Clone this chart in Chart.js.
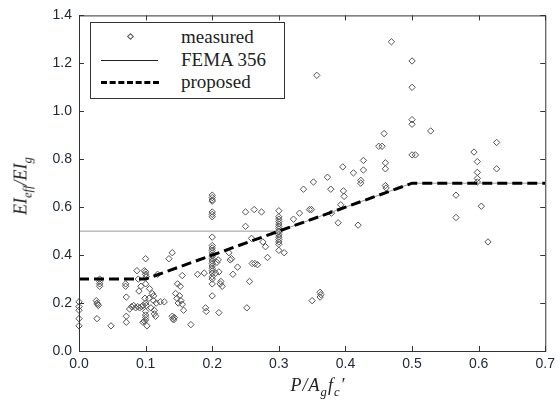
<!DOCTYPE html>
<html>
  <head>
    <meta charset="utf-8" />
    <title>EI eff / EI g</title>
    <script src="https://cdn.jsdelivr.net/npm/chart.js"></script>
    <style>
      * {
        box-sizing: border-box;
        margin: 0;
        padding: 0;
      }
      body {
        background: #fff;
      }
      #box {
        position: relative;
        width: 560px;
        height: 405px;
      }
      .serif {
        font-family: "Liberation Serif", "Times New Roman", serif;
        color: #222;
      }
      #legend {
        position: absolute;
        left: 90px;
        top: 22px;
        width: 195px;
        height: 77px;
        border: 1px solid #333;
        background: #fff;
        font-size: 19px;
      }
      #legend .row {
        position: absolute;
        left: 0;
        height: 22px;
        line-height: 22px;
      }
      #legend .txt {
        position: absolute;
        left: 90px;
        white-space: nowrap;
      }
      .diamond {
        position: absolute;
        left: 37px;
        top: 8px;
        width: 5px;
        height: 5px;
        border: 1px solid #555;
        transform: rotate(45deg);
      }
      .solid {
        position: absolute;
        left: 10px;
        top: 11px;
        width: 57px;
        border-top: 1px solid #222;
      }
      .dashed {
        position: absolute;
        left: 10px;
        top: 10px;
        width: 58px;
        border-top: 3px dashed #000;
      }
      #ytitle {
        position: absolute;
        left: 23px;
        top: 186px;
        transform: translate(-50%, -50%) rotate(-90deg);
        font-size: 18px;
        font-style: italic;
        white-space: nowrap;
      }
      #xtitle {
        position: absolute;
        left: 318px;
        top: 376px;
        transform: translateX(-50%);
        font-size: 18px;
        line-height: 18px;
        font-style: italic;
        white-space: nowrap;
        letter-spacing: 1px;
      }
      sub {
        font-size: 70%;
        vertical-align: -5px;
      }
    </style>
  </head>

  <body>
    <div id="box">
      <canvas id="chart" width="560" height="405"></canvas>
      <div id="legend" class="serif">
        <div class="row" style="top: 3px; width: 100%">
          <span class="diamond"></span><span class="txt">measured</span>
        </div>
        <div class="row" style="top: 26px; width: 100%">
          <span class="solid"></span><span class="txt">FEMA 356</span>
        </div>
        <div class="row" style="top: 48px; width: 100%">
          <span class="dashed"></span><span class="txt">proposed</span>
        </div>
      </div>
      <div id="ytitle" class="serif">EI<sub>eff</sub>/EI<sub>g</sub></div>
      <div id="xtitle" class="serif">P/A<sub>g</sub>f<sub>c</sub>′</div>
    </div>

    <script>
      // axial load ratio P/(Ag fc') vs EIeff/EIg
      const measured = [
        [0, 0.205], [0, 0.185], [0, 0.17], [0, 0.135], [0, 0.105],
        [0.026, 0.21], [0.027, 0.2], [0.028, 0.195], [0.029, 0.19], [0.027, 0.135],
        [0.031, 0.3], [0.031, 0.29], [0.031, 0.28], [0.031, 0.27],
        [0.048, 0.105],
        [0.07, 0.28], [0.07, 0.27], [0.071, 0.225], [0.071, 0.145], [0.071, 0.12],
        [0.076, 0.175], [0.079, 0.185], [0.082, 0.19], [0.085, 0.18],
        [0.088, 0.185], [0.091, 0.18], [0.094, 0.185], [0.096, 0.19],
        [0.087, 0.335], [0.089, 0.3], [0.09, 0.25], [0.093, 0.27],
        [0.098, 0.335], [0.1, 0.33], [0.1, 0.32], [0.101, 0.31], [0.1, 0.385],
        [0.1, 0.28], [0.099, 0.22], [0.1, 0.2], [0.101, 0.19], [0.1, 0.165],
        [0.1, 0.15], [0.1, 0.14], [0.1, 0.13], [0.098, 0.125], [0.102, 0.105],
        [0.096, 0.12],
        [0.105, 0.22], [0.106, 0.26], [0.108, 0.18], [0.11, 0.24], [0.112, 0.23],
        [0.112, 0.21], [0.113, 0.17], [0.113, 0.155], [0.115, 0.145], [0.116, 0.2],
        [0.118, 0.32], [0.122, 0.205], [0.128, 0.205],
        [0.135, 0.385], [0.14, 0.41],
        [0.14, 0.145], [0.141, 0.135], [0.142, 0.13], [0.143, 0.14],
        [0.145, 0.24], [0.147, 0.22], [0.149, 0.2], [0.151, 0.23], [0.153, 0.21],
        [0.155, 0.195], [0.155, 0.315], [0.157, 0.17], [0.152, 0.27], [0.148, 0.28],
        [0.168, 0.11], [0.178, 0.32],
        [0.19, 0.18], [0.191, 0.165], [0.188, 0.325],
        [0.2, 0.65], [0.2, 0.64], [0.2, 0.63], [0.2, 0.625], [0.2, 0.58],
        [0.2, 0.57], [0.2, 0.56], [0.2, 0.475], [0.2, 0.44], [0.2, 0.43],
        [0.2, 0.42], [0.2, 0.41], [0.2, 0.4], [0.2, 0.395], [0.2, 0.385],
        [0.2, 0.375], [0.2, 0.365], [0.2, 0.355], [0.2, 0.345], [0.2, 0.335],
        [0.2, 0.325], [0.2, 0.31], [0.2, 0.3], [0.2, 0.28], [0.2, 0.23],
        [0.205, 0.325], [0.207, 0.37], [0.209, 0.38], [0.21, 0.33], [0.21, 0.16],
        [0.212, 0.28], [0.215, 0.27], [0.213, 0.29],
        [0.225, 0.41], [0.227, 0.38], [0.229, 0.385], [0.231, 0.32], [0.238, 0.35],
        [0.25, 0.58], [0.25, 0.52], [0.252, 0.18], [0.256, 0.29], [0.259, 0.47],
        [0.26, 0.365], [0.264, 0.365], [0.268, 0.36], [0.263, 0.59], [0.274, 0.58],
        [0.276, 0.455], [0.28, 0.435], [0.283, 0.39],
        [0.3, 0.585], [0.3, 0.56], [0.3, 0.55], [0.3, 0.54], [0.3, 0.53],
        [0.3, 0.52], [0.3, 0.51], [0.3, 0.5], [0.3, 0.495], [0.3, 0.485],
        [0.3, 0.475], [0.3, 0.465], [0.3, 0.455], [0.3, 0.445], [0.3, 0.42],
        [0.308, 0.41], [0.322, 0.55], [0.331, 0.575], [0.337, 0.675],
        [0.346, 0.59], [0.349, 0.59], [0.35, 0.21], [0.352, 0.705], [0.357, 1.15],
        [0.362, 0.245], [0.363, 0.235], [0.362, 0.225],
        [0.373, 0.725], [0.378, 0.675], [0.379, 0.575], [0.389, 0.535],
        [0.393, 0.61], [0.396, 0.768], [0.397, 0.668], [0.398, 0.645],
        [0.412, 0.743], [0.419, 0.525], [0.423, 0.712], [0.423, 0.7],
        [0.427, 0.795], [0.427, 0.755],
        [0.45, 0.854], [0.455, 0.854], [0.458, 0.907], [0.46, 0.785], [0.46, 0.76],
        [0.46, 0.69], [0.461, 0.68], [0.469, 1.29],
        [0.5, 1.21], [0.5, 1.1], [0.5, 0.965], [0.5, 0.946], [0.5, 0.818],
        [0.505, 0.818], [0.528, 0.918],
        [0.566, 0.65], [0.566, 0.557], [0.593, 0.83], [0.598, 0.79],
        [0.598, 0.745], [0.598, 0.72], [0.598, 0.705], [0.604, 0.604],
        [0.614, 0.455], [0.627, 0.87], [0.627, 0.76],
      ];

      const femaP = [0, 0.3, 0.5, 0.7];
      const femaEI = [0.5, 0.5, 0.7, 0.7];

      const proposedP = [0, 0.1, 0.5, 0.7];
      const proposedEI = [0.3, 0.3, 0.7, 0.7];

      const xTicks = [0, 0.1, 0.2, 0.3, 0.4, 0.5, 0.6, 0.7];
      const yTicks = [0, 0.2, 0.4, 0.6, 0.8, 1.0, 1.2, 1.4];

      const tickFont = { family: "Liberation Sans, Arial, sans-serif", size: 14 };
      const tickColor = "#222a3a";

      // frame + inward tick marks on all four sides
      const frameTicks = {
        id: "frameTicks",
        afterDraw(chart) {
          const { ctx, chartArea: a, scales } = chart;
          ctx.save();
          ctx.strokeStyle = "#333";
          ctx.lineWidth = 1;
          ctx.strokeRect(a.left + 0.5, a.top + 0.5, a.right - a.left, a.bottom - a.top);
          ctx.beginPath();
          xTicks.forEach((v) => {
            const px = Math.round(scales.x.getPixelForValue(v)) + 0.5;
            ctx.moveTo(px, a.bottom);
            ctx.lineTo(px, a.bottom - 5);
            ctx.moveTo(px, a.top);
            ctx.lineTo(px, a.top + 5);
          });
          yTicks.forEach((v) => {
            const py = Math.round(scales.y.getPixelForValue(v)) + 0.5;
            ctx.moveTo(a.left, py);
            ctx.lineTo(a.left + 5, py);
            ctx.moveTo(a.right, py);
            ctx.lineTo(a.right - 5, py);
          });
          ctx.stroke();
          ctx.restore();
        },
      };

      new Chart(document.getElementById("chart"), {
        type: "scatter",
        data: {
          datasets: [
            {
              label: "proposed",
              data: proposedP.map((p, i) => ({ x: p, y: proposedEI[i] })),
              showLine: true,
              borderColor: "#000",
              borderWidth: 3,
              borderDash: [10, 5],
              pointRadius: 0,
              order: 0,
            },
            {
              label: "FEMA 356",
              data: femaP.map((p, i) => ({ x: p, y: femaEI[i] })),
              showLine: true,
              borderColor: "#999",
              borderWidth: 1,
              pointRadius: 0,
              order: 1,
            },
            {
              label: "measured",
              data: measured.map(([p, ei]) => ({ x: p, y: ei })),
              pointStyle: "rectRot",
              pointRadius: 3.2,
              borderWidth: 1,
              borderColor: "#555",
              backgroundColor: "rgba(0,0,0,0)",
              clip: false,
              order: 2,
            },
          ],
        },
        options: {
          responsive: false,
          animation: false,
          layout: { padding: { left: 0, top: 15, right: 10, bottom: 0 } },
          plugins: {
            legend: { display: false },
            tooltip: { enabled: false },
          },
          scales: {
            x: {
              type: "linear",
              min: 0,
              max: 0.7,
              afterBuildTicks: (s) => {
                s.ticks = xTicks.map((v) => ({ value: v }));
              },
              afterFit: (s) => {
                s.height = 54;
              },
              grid: { display: false, drawTicks: false },
              border: { display: false },
              ticks: {
                padding: 5,
                font: tickFont,
                color: tickColor,
                callback: (v) => v.toFixed(1),
              },
            },
            y: {
              type: "linear",
              min: 0,
              max: 1.4,
              afterBuildTicks: (s) => {
                s.ticks = yTicks.map((v) => ({ value: v }));
              },
              afterFit: (s) => {
                s.width = 79;
              },
              grid: { display: false, drawTicks: false },
              border: { display: false },
              ticks: {
                padding: 7,
                font: tickFont,
                color: tickColor,
                callback: (v) => v.toFixed(1),
              },
            },
          },
        },
        plugins: [frameTicks],
      });
    </script>
  </body>
</html>
